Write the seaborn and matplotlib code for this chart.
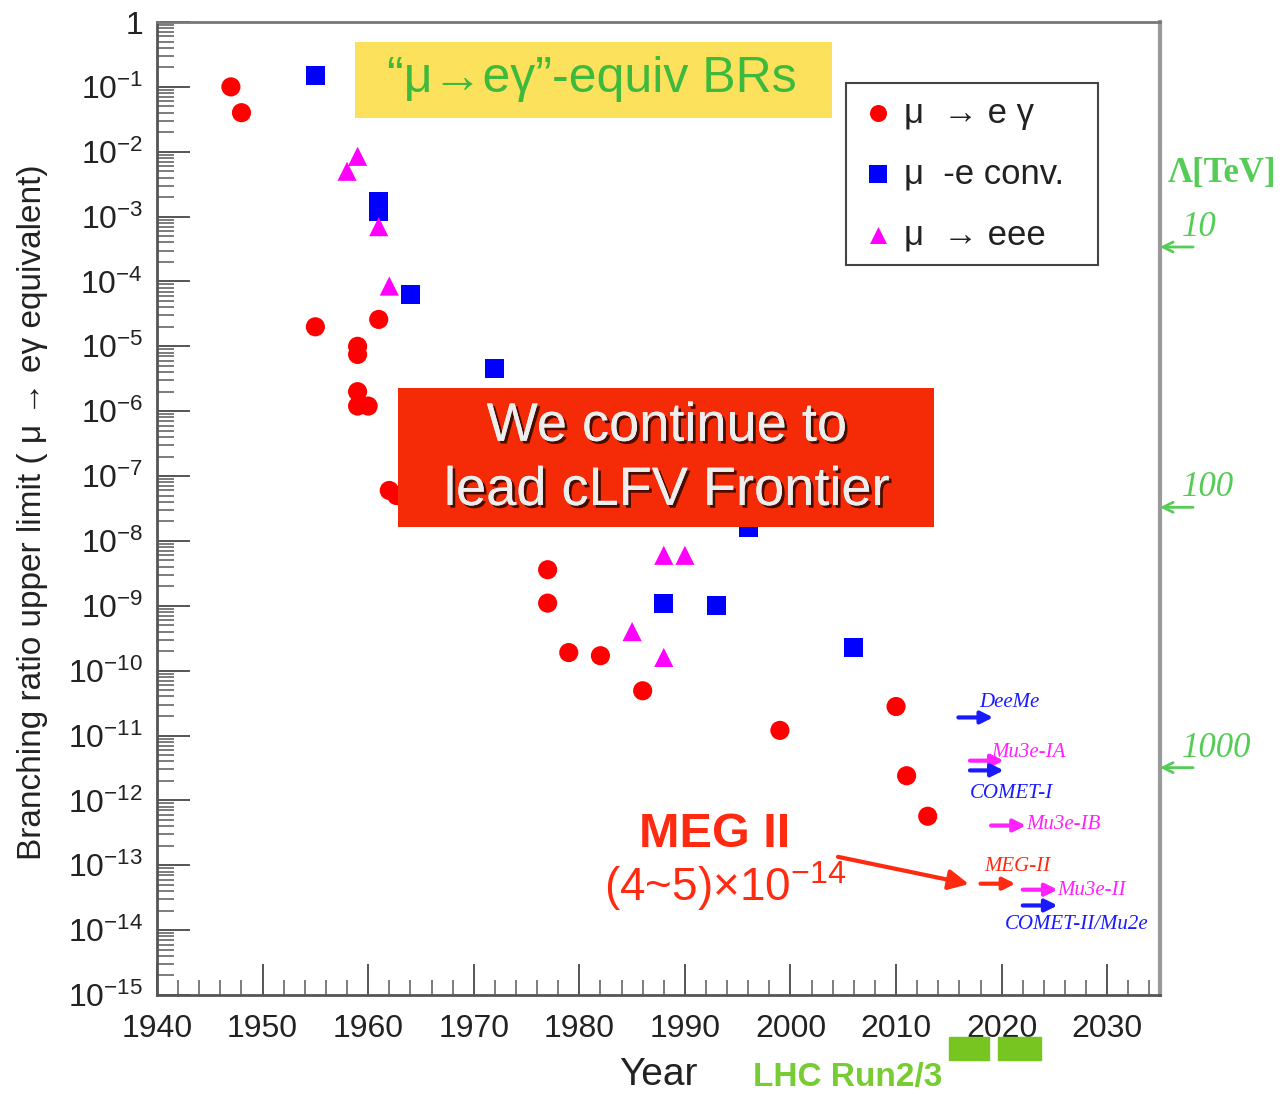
import numpy as np
import pandas as pd
import matplotlib
matplotlib.use("Agg")
import matplotlib.pyplot as plt
import matplotlib.ticker as mticker
import matplotlib.patheffects as pe
from matplotlib.patches import Rectangle
import seaborn as sns

# ---------------- data ----------------
meg_years = [1947, 1948, 1955, 1959, 1959, 1959, 1959, 1960, 1961, 1962, 1962.7,
             1977, 1977, 1979, 1982, 1986, 1999, 2010, 2011, 2013]
meg_br = [1.0e-1, 4.0e-2, 2.0e-5, 1.0e-5, 7.5e-6, 2.0e-6, 1.2e-6, 1.2e-6, 2.6e-5, 6.0e-8, 5.0e-8,
          3.6e-9, 1.1e-9, 1.9e-10, 1.7e-10, 4.9e-11, 1.2e-11, 2.8e-11, 2.4e-12, 5.7e-13]

conv_years = [1955, 1961, 1961, 1964, 1972, 1996, 1988, 1993, 2006]
conv_br = [1.5e-1, 1.7e-3, 1.2e-3, 6.3e-5, 4.6e-6, 1.6e-8, 1.1e-9, 1.0e-9, 2.3e-10]

eee_years = [1959, 1958, 1961, 1962, 1988, 1990, 1985, 1988]
eee_br = [8.5e-3, 5.0e-3, 7.0e-4, 8.5e-5, 6.0e-9, 6.0e-9, 4.0e-10, 1.6e-10]

process_names = ["mueg", "conv", "eee"]
process_colors = ["#ff0000", "#0000ff", "#ff00ff"]
process_markers = ["o", "s", "^"]
legend_labels = ["μ  → e γ", "μ  -e conv.", "μ  → eee"]

# future experiments: name, start year, end year, BR, color
fut_names = ["DeeMe", "Mu3e-IA", "COMET-I", "Mu3e-IB", "MEG-II", "Mu3e-II", "COMET-II/Mu2e"]
fut_start = [2015.9, 2017.0, 2017.0, 2019.0, 2018.0, 2022.0, 2022.0]
fut_end = [2019.2, 2020.2, 2020.2, 2022.3, 2021.3, 2025.3, 2025.3]
fut_br = [1.9e-11, 4.1e-12, 2.9e-12, 4.1e-13, 5.2e-14, 4.2e-14, 2.4e-14]
fut_colors = ["#1a1aff", "#ff22ff", "#1a1aff", "#ff22ff", "#ff2a10", "#ff22ff", "#1a1aff"]
# label anchor (year, BR) for each
fut_lab_x = [2017.9, 2019.0, 2017.0, 2022.3, 2018.4, 2025.3, 2020.3]
fut_lab_y = [3.2e-11, 5.5e-12, 1.3e-12, 4.3e-13, 9.5e-14, 4.1e-14, 1.2e-14]

lam_values = ["10", "100", "1000"]
lam_br = [3.4e-4, 3.3e-8, 3.2e-12]

lhc_runs = [(2015.0, 2018.8), (2019.7, 2023.7)]

y_major = [10.0 ** (-k) for k in range(0, 16)]
y_labels = ["1"] + [r"$10^{-%d}$" % k for k in range(1, 16)]

# ---------------- style ----------------
sns.set_theme(style="white")
plt.rcParams["font.family"] = ["Liberation Sans", "DejaVu Sans"]
plt.rcParams["mathtext.fontset"] = "custom"
plt.rcParams["mathtext.rm"] = "Liberation Sans"
plt.rcParams["mathtext.it"] = "Liberation Sans:italic"

fig = plt.figure(figsize=(12.82, 10.94), dpi=100)
ax = fig.add_axes([157 / 1282, 1 - 995 / 1094, (1160 - 157) / 1282, (995 - 22) / 1094])

df = pd.concat([
    pd.DataFrame({"year": meg_years, "br": meg_br, "process": "mueg"}),
    pd.DataFrame({"year": conv_years, "br": conv_br, "process": "conv"}),
    pd.DataFrame({"year": eee_years, "br": eee_br, "process": "eee"}),
], ignore_index=True)

ax.set_yscale("log")
sns.scatterplot(data=df, x="year", y="br", hue="process", style="process",
                hue_order=process_names, style_order=process_names,
                palette=dict(zip(process_names, process_colors)),
                markers=dict(zip(process_names, process_markers)),
                s=190, linewidth=0, legend=False, ax=ax, zorder=3)

ax.set_xlim(1940, 2035)
ax.set_ylim(1e-15, 1)

# ticks
ax.yaxis.set_major_locator(mticker.FixedLocator(y_major))
ax.yaxis.set_major_formatter(mticker.FixedFormatter(y_labels))
ax.yaxis.set_minor_locator(mticker.LogLocator(base=10, subs=np.arange(2, 10), numticks=100))
ax.yaxis.set_minor_formatter(mticker.NullFormatter())
ax.xaxis.set_major_locator(mticker.MultipleLocator(10))
ax.xaxis.set_minor_locator(mticker.MultipleLocator(2))
ax.tick_params(axis="y", which="major", direction="in", length=24, width=1.4, color="#555555",
               labelsize=23, pad=10, left=True, right=False, labelcolor="#222222")
ax.tick_params(axis="y", which="minor", direction="in", length=12, width=1.2, color="#666666",
               left=True, right=False)
ax.tick_params(axis="x", which="major", direction="in", length=22, width=1.4, color="#555555",
               labelsize=23, pad=14, bottom=True, top=False, labelcolor="#222222")
ax.tick_params(axis="x", which="minor", direction="in", length=11, width=1.2, color="#666666",
               bottom=True, top=False)
for sp in ax.spines.values():
    sp.set_color("#555555")
    sp.set_linewidth(2.0)
ax.spines["right"].set_color("#999999")
ax.spines["right"].set_linewidth(3.0)
ax.spines["top"].set_color("#777777")
ax.set_xlabel("")
ax.set_ylabel("")

ax.text(-0.124, 0.496, "Branching ratio upper limit ( μ → eγ equivalent)", transform=ax.transAxes,
        rotation=90, ha="center", va="center", fontsize=24, color="#222222")
ax.text(0.4995, -0.082, "Year", transform=ax.transAxes, ha="center", va="center",
        fontsize=28, color="#222222")
ax.text(0.689, -0.085, "LHC Run2/3", transform=ax.transAxes, ha="center", va="center",
        fontsize=24, color="#77cc33", fontweight="bold")
xt = ax.get_xaxis_transform()
for r0, r1 in lhc_runs:
    ax.add_patch(Rectangle((r0, -0.067), r1 - r0, 0.024, transform=xt, color="#77c520",
                           clip_on=False, zorder=5))

# yellow box
ax.add_patch(Rectangle((0.197, 0.901), 0.476, 0.078, transform=ax.transAxes,
                       facecolor="#fbe15c", edgecolor="none", zorder=4))
ax.text(0.434, 0.941, "“μ→eγ”-equiv BRs", transform=ax.transAxes, ha="center", va="center",
        fontsize=36, color="#3dba3d", zorder=5)

# red box
ax.add_patch(Rectangle((0.240, 0.481), 0.535, 0.143, transform=ax.transAxes,
                       facecolor="#f52a06", edgecolor="none", zorder=6))
shadow = [pe.withSimplePatchShadow(offset=(2, -2), shadow_rgbFace="#000000", alpha=0.7), pe.Normal()]
ax.text(0.508, 0.584, "We continue to", transform=ax.transAxes, ha="center", va="center",
        fontsize=39, color="#eeeeee", zorder=7, path_effects=shadow)
ax.text(0.508, 0.518, "lead cLFV Frontier", transform=ax.transAxes, ha="center", va="center",
        fontsize=39, color="#eeeeee", zorder=7, path_effects=shadow)

# legend box
ax.add_patch(Rectangle((0.687, 0.750), 0.251, 0.187, transform=ax.transAxes,
                       facecolor="white", edgecolor="#444444", linewidth=1.5, zorder=6))
leg_y = [0.906, 0.844, 0.781]
for c, m, lab, yy in zip(process_colors, process_markers, legend_labels, leg_y):
    ax.scatter([0.719], [yy], transform=ax.transAxes, s=150, marker=m, color=c,
               linewidth=0, zorder=7)
    ax.text(0.745, yy, lab, transform=ax.transAxes, ha="left", va="center",
            fontsize=25, color="#222222", zorder=7)

# future experiments
for nm, x0, x1, br, c, lx, ly in zip(fut_names, fut_start, fut_end, fut_br, fut_colors,
                                      fut_lab_x, fut_lab_y):
    ax.annotate("", xy=(x1, br), xytext=(x0, br),
                arrowprops=dict(arrowstyle="-|>", color=c, lw=3, mutation_scale=18,
                                shrinkA=0, shrinkB=0), zorder=5)
    ax.text(lx, ly, nm, ha="left", va="center", fontsize=15, color=c, fontstyle="italic",
            family=["Liberation Serif", "DejaVu Serif"], zorder=5)

# MEG II annotation
ax.annotate("", xy=(2016.9, 10 ** -13.29), xytext=(2004.5, 10 ** -12.87),
            arrowprops=dict(arrowstyle="-|>", color="#ff2a10", lw=3, mutation_scale=30,
                            shrinkA=0, shrinkB=0), zorder=5)
ax.text(0.556, 0.165, "MEG II", transform=ax.transAxes, ha="center", va="center",
        fontsize=35, color="#ff2a10", fontweight="bold")
ax.text(0.566, 0.112, r"(4~5)×10$^{-14}$", transform=ax.transAxes, ha="center", va="center",
        fontsize=33, color="#ff2a10")

# Lambda scale on right
yt = ax.get_yaxis_transform()
ax.text(1.062, 0.844, "Λ[TeV]", transform=ax.transAxes, ha="center", va="center",
        fontsize=25, color="#55cc55", fontweight="bold", family=["Liberation Serif", "DejaVu Serif"])
for v, br in zip(lam_values, lam_br):
    ax.annotate("", xy=(1.0, br), xytext=(1.033, br), xycoords=yt, textcoords=yt,
                arrowprops=dict(arrowstyle="->", color="#55cc55", lw=2, mutation_scale=18,
                                shrinkA=0, shrinkB=0), annotation_clip=False)
    ax.text(1.022, br * 2.0, v, transform=yt, ha="left", va="center", fontsize=25,
            color="#55cc55", fontstyle="italic", family=["Liberation Serif", "DejaVu Serif"])

fig.savefig("out.png", dpi=100)
